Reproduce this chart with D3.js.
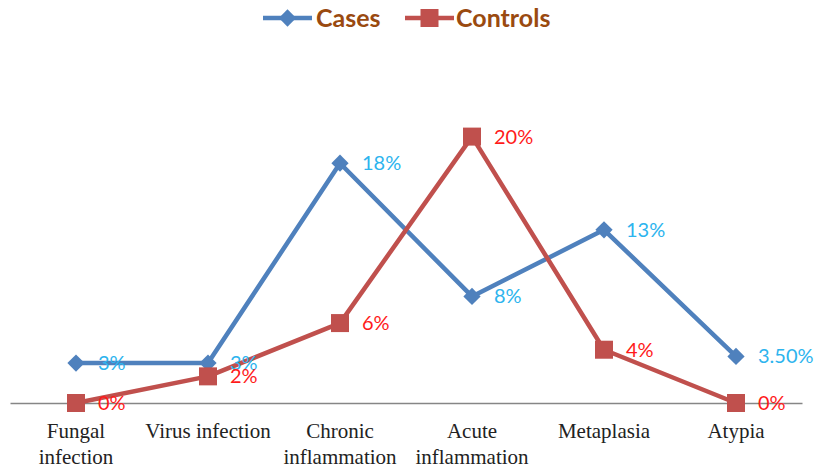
<!DOCTYPE html>
<html><head><meta charset="utf-8">
<script src="https://cdn.jsdelivr.net/npm/d3@7"></script>
<style>body{margin:0;background:#fff}svg{display:block}</style>
</head><body><svg id="c" width="816" height="468"></svg>
<script>
const categories = ["Fungal\ninfection","Virus infection","Chronic\ninflammation","Acute\ninflammation","Metaplasia","Atypia"];
const cases = [3,3,18,8,13,3.5];
const controls = [0,2,6,20,4,0];
const casesLabels = ["3%","3%","18%","8%","13%","3.50%"];
const controlsLabels = ["0%","2%","6%","20%","4%","0%"];
const seriesNames = ["Cases","Controls"];

const svg = d3.select("#c");
const x = d3.scaleBand().domain(categories).range([10,802]);
const y = d3.scaleLinear().domain([0,25]).range([403,70]);

// axis
const ax = svg.append("g").attr("transform","translate(0,403)").call(d3.axisBottom(x).tickSize(0).tickFormat(""));
ax.select(".domain").attr("stroke","#868686").attr("stroke-width",1.5);
categories.forEach(c=>{
  const t = svg.append("text").attr("x",x(c)+x.bandwidth()/2).attr("text-anchor","middle")
    .attr("font-family","Liberation Serif, serif").attr("font-size",21).attr("fill","#222");
  c.split("\n").forEach((l,i)=>t.append("tspan").attr("x",x(c)+x.bandwidth()/2).attr("y",438+i*26).text(l));
});

const cx = c=>x(c)+x.bandwidth()/2;
const line = d3.line().x((d,i)=>cx(categories[i])).y(d=>y(d));

const series = [
  {name:"Cases",vals:cases,labels:casesLabels,color:"#4F81BD",lab:"#2DB4EE",marker:"diamond"},
  {name:"Controls",vals:controls,labels:controlsLabels,color:"#C0504D",lab:"#FF1A1A",marker:"square"}
];
function marker(g,type,color,px,py){
  if(type==="diamond") g.append("path").attr("d",d3.symbol(d3.symbolDiamond2,190)()).attr("transform",`translate(${px},${py})`).attr("fill",color);
  else g.append("rect").attr("x",px-9).attr("y",py-9).attr("width",18).attr("height",18).attr("fill",color);
}
series.forEach(s=>{
  svg.append("path").datum(s.vals).attr("d",line).attr("fill","none").attr("stroke",s.color).attr("stroke-width",4.5).attr("stroke-linejoin","round");
});
series.forEach(s=>{
  s.vals.forEach((v,i)=>marker(svg,s.marker,s.color,cx(categories[i]),y(v)));
});
series.forEach(s=>{
  s.vals.forEach((v,i)=>{
    svg.append("text").attr("x",cx(categories[i])+22).attr("y",y(v)+7)
      .attr("font-family","Lato, 'Open Sans', sans-serif").attr("font-size",20).attr("fill",s.lab).text(s.labels[i]);
  });
});

// legend
const lg = [{n:seriesNames[0],x0:263,c:"#4F81BD",m:"diamond",tx:316},{n:seriesNames[1],x0:405,c:"#C0504D",m:"square",tx:456}];
lg.forEach(l=>{
  svg.append("line").attr("x1",l.x0).attr("x2",l.x0+49).attr("y1",18).attr("y2",18).attr("stroke",l.c).attr("stroke-width",4.5);
  marker(svg,l.m,l.c,l.x0+24.5,18);
  svg.append("text").attr("x",l.tx).attr("y",27).attr("font-family","Lato, 'Open Sans', sans-serif").attr("font-weight","bold").attr("font-size",25).attr("fill","#9A4A10").text(l.n);
});
</script></body></html>
